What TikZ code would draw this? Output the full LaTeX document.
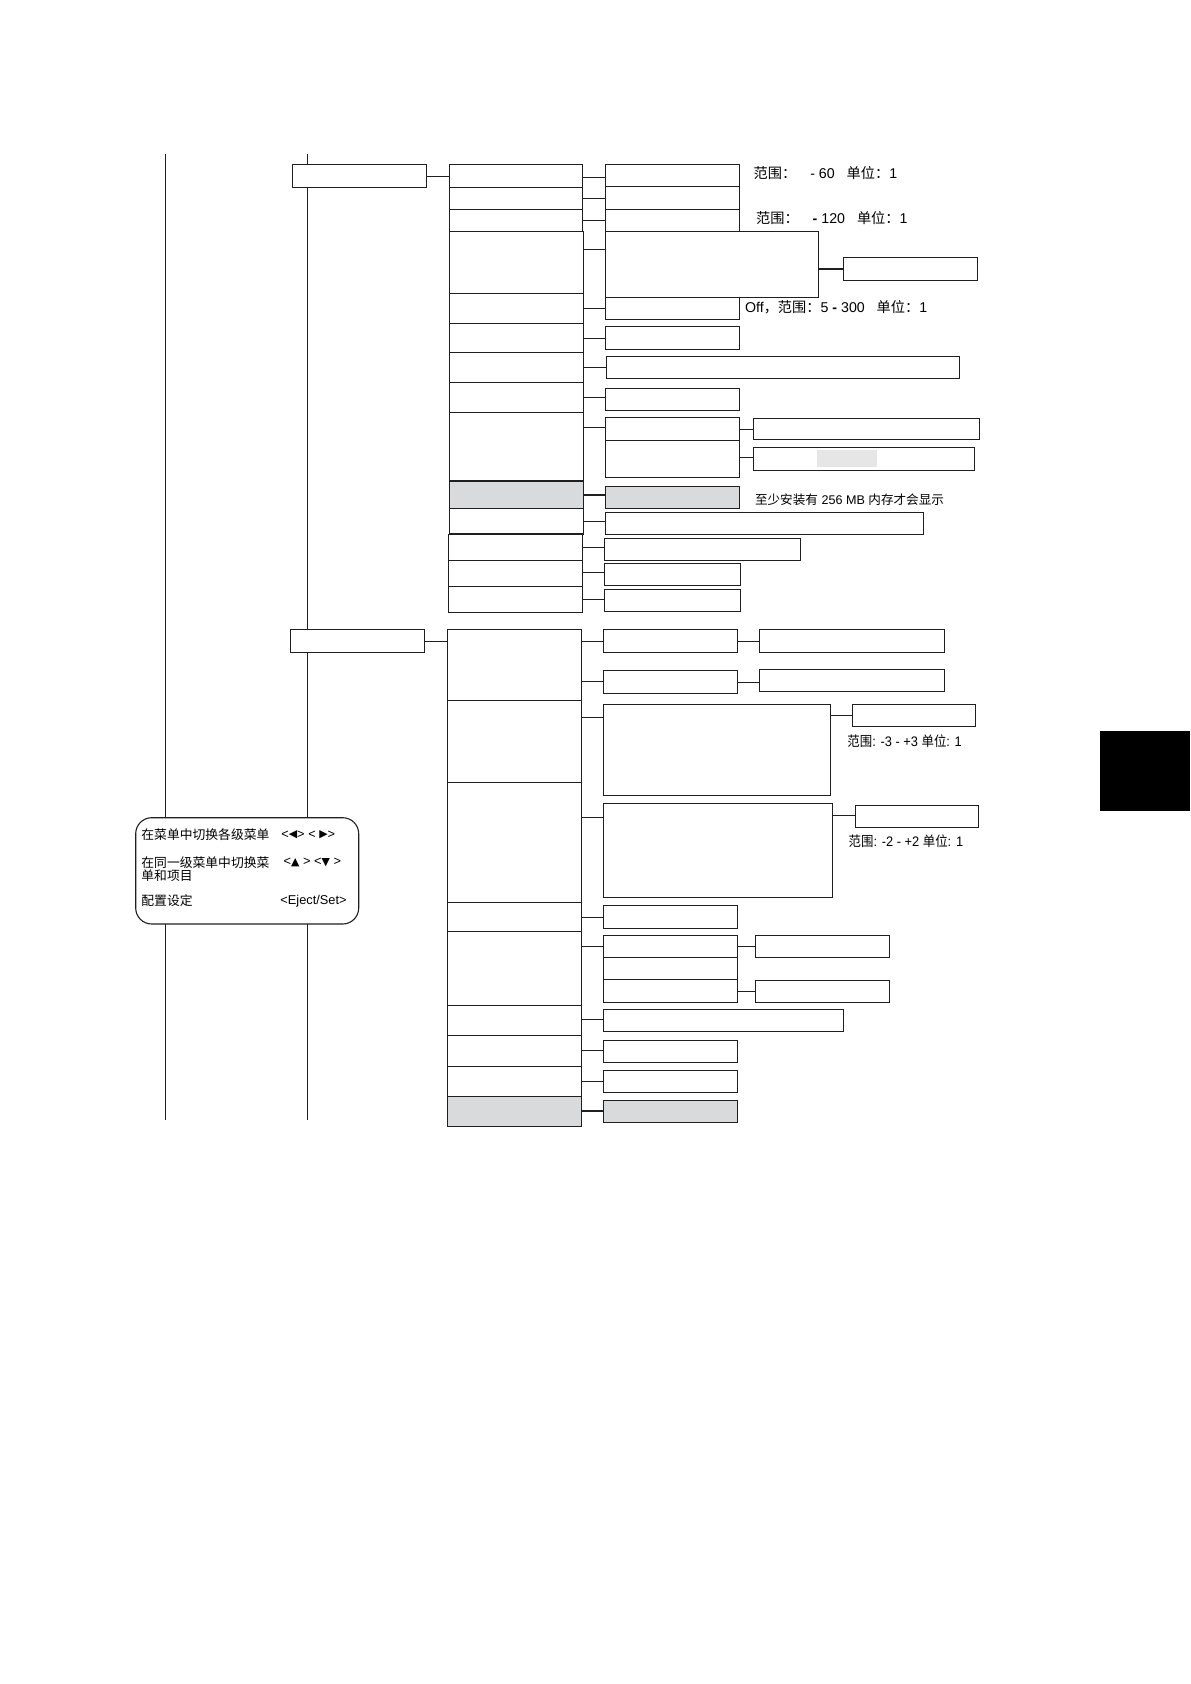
\documentclass[tikz,border=0pt]{standalone}
\usepackage{fontspec}
\setmainfont{Liberation Sans}
\newfontfamily\cjk{Noto Sans CJK SC}
\newfontfamily\symf{DejaVu Sans}
\newfontfamily\lnarrow[FakeStretch=0.93]{Liberation Sans}
\newfontfamily\cnarrow[FakeStretch=0.9]{Noto Sans CJK SC}
\usetikzlibrary{fit}
\definecolor{boxgray}{HTML}{D9DADB}
\definecolor{patchgray}{HTML}{E6E6E6}
\tikzset{
  bxs/.style={draw=black!88, line width=0.55pt, fill=white, inner sep=0pt, outer sep=0pt},
  gbx/.style={fill=boxgray},
  ln/.style={draw=black!88, line width=0.55pt},
  note/.style={anchor=west, inner sep=0pt, font=\fontsize{7.1}{8}\selectfont},
  smallnote/.style={anchor=west, inner sep=0pt, font=\fontsize{6.3}{7}\selectfont},
  narrownote/.style={anchor=west, inner sep=0pt, font=\lnarrow\fontsize{6.9}{8}\selectfont},
  keyt/.style={anchor=west, inner sep=0pt, align=left, font=\fontsize{6.4}{6.7}\selectfont},
  keybox/.style={draw=black!88, line width=0.55pt, fill=white, rounded corners=8pt, inner sep=0pt},
}
\newcommand\bx[6][]{\node[bxs,#1,fit={(#3,#4) (#5,#6)}] (#2) {};}
\newcommand\cn[3]{\draw[ln] (#1.east |- 0,#3) -- (#2.west |- 0,#3);}
\newcommand\tri[1]{\raisebox{0.2pt}{\scalebox{0.85}{\symf #1}}}
\begin{document}
\begin{tikzpicture}[x=0.5pt,y=-0.5pt]
\useasboundingbox (0,0) rectangle (1190,1684);
% vertical guide lines
\coordinate (v1t) at (165.7,154); \coordinate (v1b) at (165.7,1120);
\coordinate (v2t) at (307.3,154); \coordinate (v2b) at (307.3,1120);
\draw[ln] (v1t) -- (v1b);
\draw[ln] (v2t) -- (v2b);
% black tab
\fill[black] (1100,731) rectangle (1190,810.7);

% ---------- section 1 ----------
\bx{a1}{292.3}{164.3}{426.7}{187.7}
\bx{p1}{449.3}{164.3}{582.7}{187.7}
\bx{p2}{449.3}{187.7}{582.7}{209.3}
\bx{p3}{449.3}{209.3}{582.7}{231.3}
\bx{p4}{449.3}{231.3}{583.7}{293.3}
\bx{p5}{449.3}{293.3}{583.7}{323.3}
\bx{p6}{449.3}{323.3}{583.7}{352.3}
\bx{p7}{449.3}{352.3}{583.7}{382.3}
\bx{p8}{449.3}{382.3}{583.7}{412.3}
\bx{p9}{449.3}{412.3}{583.7}{481}
\bx[gbx]{p10}{449.3}{481}{583.2}{508.3}
\bx{p11}{449.3}{508.3}{583.2}{534}
\bx{p12}{448.2}{534.3}{582.5}{560.3}
\bx{p13}{448.2}{560.3}{582.5}{586.3}
\bx{p14}{448.2}{586.3}{582.5}{612.3}

\bx{q1}{605.3}{164.3}{739.3}{186.7}
\bx{q2}{605.3}{186.7}{739.3}{209.3}
\bx{q3}{605.3}{209.3}{739.3}{231.3}
\bx{q4}{605.3}{231.3}{818.7}{297.3}
\bx{q4r}{843.3}{257.3}{977.7}{280.3}
\bx{q5}{605.3}{297.3}{739.3}{319.3}
\bx{q6}{605.3}{326.3}{739.3}{349.3}
\bx{q7}{606.3}{356.7}{959.7}{378.3}
\bx{q8}{605.3}{388.3}{739.3}{410.3}
\bx{q9a}{605.3}{417.3}{739.3}{440.3}
\bx{q9b}{605.3}{440.3}{739.3}{477.3}
\bx{q9ar}{753.3}{418.3}{979.3}{439.3}
\bx{q9br}{753.3}{447.3}{974.7}{470.3}
\fill[patchgray] (817,450) rectangle (877,466.7);
\bx[gbx]{q10}{605.4}{486.3}{739.3}{508.3}
\bx{q11}{605.4}{512.3}{923.6}{534.3}
\bx{q12}{604.3}{538.3}{800.7}{560.3}
\bx{q13}{604.3}{563.3}{740.7}{585.3}
\bx{q14}{604.3}{589.3}{740.7}{611.3}

\cn{a1}{p1}{176.3}
\cn{p1}{q1}{177.3}
\cn{p2}{q2}{198.3}
\cn{p3}{q3}{220.3}
\cn{p4}{q4}{249.3}
\cn{q4}{q4r}{269}
\cn{p5}{q5}{308.3}
\cn{p6}{q6}{338.3}
\cn{p7}{q7}{367.3}
\cn{p8}{q8}{397.3}
\cn{p9}{q9a}{427.3}
\cn{q9a}{q9ar}{429.3}
\cn{q9b}{q9br}{457.3}
\cn{p10}{q10}{495}
\cn{p11}{q11}{521.7}
\cn{p12}{q12}{547.3}
\cn{p13}{q13}{572.7}
\cn{p14}{q14}{599.3}

\node[note] (t1) at (753.3,173.3) {{\cjk 范围：}\hspace{7pt}- 60\hspace{4pt} {\cjk 单位：}1};
\node[note] (t2) at (755.7,218.3) {{\cjk 范围：}\hspace{7pt}\textbf{-} 120\hspace{4pt} {\cjk 单位：}1};
\node[note] (t3) at (744.7,307.7) {Off{\cjk ，范围：}5 \textbf{-} 300\hspace{4pt} {\cjk 单位：}1};
\node[smallnote] (t4) at (754.6,500) {{\cjk 至少安装有} 256 MB {\cjk 内存才会显示}};

% ---------- section 2 ----------
\bx{b1}{290.3}{629.3}{424.6}{652.3}
\bx{r1}{447.4}{629.3}{581.3}{700.3}
\bx{r2}{447.4}{700.3}{581.3}{782.3}
\bx{r3}{447.4}{782.3}{581.3}{902.3}
\bx{r4}{447.7}{902.3}{581.3}{931.3}
\bx{r5}{447.7}{931.3}{581.3}{1005.7}
\bx{r6}{447.7}{1005.7}{581.3}{1035.7}
\bx{r7}{447.7}{1035.7}{581.3}{1066.3}
\bx{r8}{447.7}{1066.3}{581.3}{1096.3}
\bx[gbx]{r9}{447.7}{1096.3}{581.3}{1126.3}

\bx{s1}{603.7}{629.3}{737.6}{652.3}
\bx{s2}{603.7}{670.3}{737.6}{693.3}
\bx{s1r}{759.5}{629.3}{944.7}{652.3}
\bx{s2r}{759.5}{669.3}{944.7}{691.3}
\bx{s3}{603.7}{704.3}{830.4}{795.3}
\bx{s3r}{852.3}{704.3}{975.5}{726.7}
\bx{s4}{603.7}{803.3}{832.7}{897.3}
\bx{s4r}{855.9}{805.7}{978.7}{827.3}
\bx{s5}{603.5}{905.3}{737.7}{928.3}
\bx{s6a}{603.5}{935.3}{737.7}{957.3}
\bx{s6b}{603.5}{957.3}{737.7}{979.3}
\bx{s6c}{603.5}{979.3}{737.7}{1002.3}
\bx{s6ar}{755.3}{935.3}{889.7}{957.3}
\bx{s6cr}{755.3}{980.3}{889.7}{1002.3}
\bx{s7}{603.5}{1009.3}{843.7}{1031.3}
\bx{s8}{603.5}{1040.3}{737.7}{1062.3}
\bx{s9}{603.5}{1070.3}{737.7}{1092.3}
\bx[gbx]{s10}{603.5}{1100.3}{737.7}{1122.3}

\cn{b1}{r1}{641.3}
\cn{r1}{s1}{641.3}
\cn{r1}{s2}{681.3}
\cn{s1}{s1r}{641.3}
\cn{s2}{s2r}{682.3}
\cn{r2}{s3}{717.3}
\cn{s3}{s3r}{715.3}
\cn{r3}{s4}{817.3}
\cn{s4}{s4r}{815.7}
\cn{r4}{s5}{917.3}
\cn{r5}{s6a}{946.7}
\cn{s6a}{s6ar}{946.7}
\cn{s6c}{s6cr}{991.3}
\cn{r6}{s7}{1019.3}
\cn{r7}{s8}{1050.3}
\cn{r8}{s9}{1081.3}
\cn{r9}{s10}{1111}

\node[narrownote] (t5) at (847,740.7) {{\cnarrow 范围}: -3 - +3 {\cnarrow 单位}: 1};
\node[narrownote] (t6) at (848.3,841) {{\cnarrow 范围}: -2 - +2 {\cnarrow 单位}: 1};

% ---------- key box ----------
\node[keybox, fit={(135.7,817.7) (358.7,924)}] (key) {};
\node[keyt] (k1) at (141,835) {{\cjk 在菜单中切换各级菜单}};
\node[keyt] (k1s) at (281,835) {<\tri{◀}> < \tri{▶}>};
\node[keyt] (k2) at (141,869.3) {{\cjk 在同一级菜单中切换菜}\\{\cjk 单和项目}};
\node[keyt] (k2s) at (283.3,862.7) {<\tri{▲} > <\tri{▼} >};
\node[keyt] (k3) at (141,901) {{\cjk 配置设定}};
\node[keyt] (k3s) at (280,901) {<Eject/Set>};
\end{tikzpicture}
\end{document}
